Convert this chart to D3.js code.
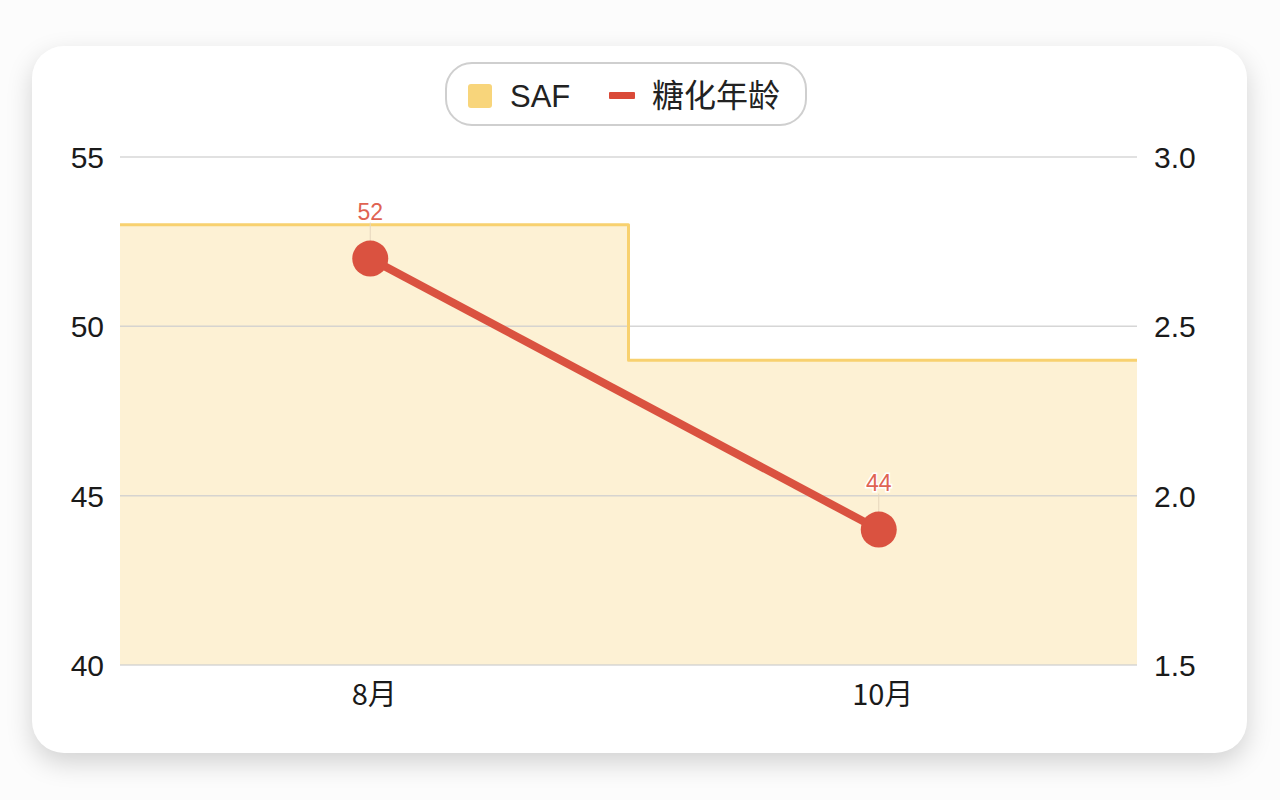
<!DOCTYPE html>
<html lang="zh">
<head>
<meta charset="UTF-8">
<title>SAF / 糖化年龄</title>
<script src="https://d3js.org/d3.v7.min.js"></script>
<style>
    body {
        margin: 0;
        background: #fcfcfc;
        font-family: "Noto Sans CJK SC", "Liberation Sans", Arial, sans-serif;
    }
    .card {
        position: absolute;
        left: 32px;
        top: 46px;
        width: 1215px;
        height: 707px;
        background: #fff;
        border-radius: 32px;
        box-shadow: 0 10px 26px rgba(0, 0, 0, 0.17);
    }
    svg {
        position: absolute;
        left: 0;
        top: 0;
    }
    .axis text {
        font-family: "Liberation Sans", Arial, sans-serif;
        font-size: 30px;
        fill: #1a1a1a;
    }
    .axis path, .axis line { display: none; }
    .grid line { stroke: #cfcfcf; stroke-width: 1.5px; }
</style>
</head>
<body>
<div class="card"></div>
<svg id="chart" width="1280" height="800"></svg>
<script>
    const months = ["8月", "10月"];
    const safValues = [2.8, 2.4];       // 右轴
    const ageValues = [52, 44];         // 左轴
    const leftTicks = [40, 45, 50, 55];
    const rightTicks = [1.5, 2.0, 2.5, 3.0];

    const svg = d3.select("#chart");
    const plotL = 120, plotR = 1137, plotT = 157, plotB = 665;

    const x = d3.scaleBand().domain(months).range([plotL, plotR]).padding(0);
    const yL = d3.scaleLinear().domain([40, 55]).range([plotB, plotT]);
    const yR = d3.scaleLinear().domain([1.5, 3.0]).range([plotB, plotT]);

    // SAF step area
    const stepData = months.map((m, i) => ({ x: x(m), v: safValues[i] }));
    stepData.push({ x: plotR, v: safValues[safValues.length - 1] });

    svg.append("path")
        .datum(stepData)
        .attr("fill", "#fdf1d4")
        .attr("d", d3.area().curve(d3.curveStepAfter)
            .x(d => d.x).y0(plotB).y1(d => yR(d.v)));

    // grid (über der Fläche)
    svg.append("g").attr("class", "grid")
        .selectAll("line").data(leftTicks).enter().append("line")
        .attr("x1", plotL).attr("x2", plotR)
        .attr("y1", d => yL(d)).attr("y2", d => yL(d))
        .attr("stroke-opacity", 0.85);

    svg.append("path")
        .datum(stepData)
        .attr("fill", "none")
        .attr("stroke", "#f8d16f")
        .attr("stroke-width", 3)
        .attr("stroke-linejoin", "round")
        .attr("d", d3.line().curve(d3.curveStepAfter)
            .x(d => d.x).y(d => yR(d.v)));

    // axes
    svg.append("g").attr("class", "axis")
        .attr("transform", `translate(${plotL - 16},0)`)
        .call(d3.axisLeft(yL).tickValues(leftTicks).tickSize(0).tickPadding(0))
        .selectAll("text").attr("dy", "0.35em");

    svg.append("g").attr("class", "axis")
        .attr("transform", `translate(${plotR + 17},0)`)
        .call(d3.axisRight(yR).tickValues(rightTicks).tickFormat(d3.format(".1f")).tickSize(0).tickPadding(0))
        .selectAll("text").attr("dy", "0.35em");

    svg.append("g").attr("class", "axis")
        .attr("transform", `translate(0,${plotB + 19})`)
        .call(d3.axisBottom(x).tickSize(0).tickPadding(0))
        .selectAll("text")
        .style("font-family", "'Noto Sans CJK SC', sans-serif")
        .style("font-size", "29px")
        .attr("dy", "0.71em");

    // 糖化年龄 line
    const cx = m => x(m) + x.bandwidth() / 2 - 4;
    const pts = months.map((m, i) => ({ m, v: ageValues[i] }));

    // label leaders
    svg.selectAll(".leader").data(pts).enter().append("line")
        .attr("x1", d => cx(d.m)).attr("x2", d => cx(d.m))
        .attr("y1", d => yL(d.v) - 36).attr("y2", d => yL(d.v))
        .attr("stroke", "#e6d6bd").attr("stroke-width", 1);

    svg.append("path")
        .datum(pts)
        .attr("fill", "none")
        .attr("stroke", "#da5240")
        .attr("stroke-width", 8)
        .attr("d", d3.line().x(d => cx(d.m)).y(d => yL(d.v)));

    svg.selectAll(".pt").data(pts).enter().append("circle")
        .attr("cx", d => cx(d.m)).attr("cy", d => yL(d.v))
        .attr("r", 18)
        .attr("fill", "#da5240");

    svg.selectAll(".lbl").data(pts).enter().append("text")
        .attr("x", d => cx(d.m)).attr("y", d => yL(d.v) - 39)
        .attr("text-anchor", "middle")
        .style("font-family", "'Liberation Sans', Arial, sans-serif")
        .style("font-size", "23px")
        .attr("fill", "#e06352")
        .attr("stroke", "#fff").attr("stroke-width", 3)
        .attr("paint-order", "stroke")
        .text(d => d.v);

    // legend
    const lg = svg.append("g");
    lg.append("rect")
        .attr("x", 446).attr("y", 63).attr("width", 360).attr("height", 62)
        .attr("rx", 26)
        .attr("fill", "#fff").attr("stroke", "#cfcfcf").attr("stroke-width", 2);
    lg.append("rect")
        .attr("x", 468).attr("y", 84).attr("width", 24).attr("height", 24).attr("rx", 3)
        .attr("fill", "#f8d57b");
    lg.append("text")
        .attr("x", 510).attr("y", 107)
        .style("font-family", "'Liberation Sans', Arial, sans-serif")
        .style("font-size", "31px").attr("fill", "#222")
        .text("SAF");
    lg.append("rect")
        .attr("x", 609).attr("y", 92).attr("width", 26).attr("height", 7).attr("rx", 1)
        .attr("fill", "#da4a38");
    lg.append("text")
        .attr("x", 652).attr("y", 107)
        .style("font-family", "'Noto Sans CJK SC', sans-serif")
        .style("font-size", "32px").attr("fill", "#222")
        .text("糖化年龄");
</script>
</body>
</html>
